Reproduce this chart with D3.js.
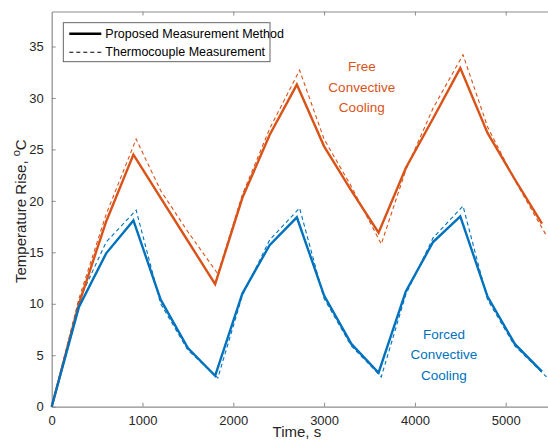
<!DOCTYPE html>
<html>
<head>
<meta charset="utf-8">
<script src="https://cdn.jsdelivr.net/npm/d3@7"></script>
<style>
  body { margin: 0; background: #fff; }
  svg { font-family: Arial, "Liberation Sans", sans-serif; }
  .axis text { fill: #262626; font-size: 13px; }
  .axis path, .axis line { stroke: #8c8c8c; }
</style>
</head>
<body>
<svg id="chart"></svg>
<script>
const chartWidth = 548;
const chartHeight = 443;
const margin = {top: 11.5, right: 0, bottom: 36.3, left: 51.7};
const innerWidth = chartWidth - margin.left - margin.right;
const innerHeight = chartHeight - margin.top - margin.bottom;

const ORANGE = "#d95319";
const BLUE = "#0072bd";

// time grid, s
const times = [0, 300, 600, 900, 1200, 1500, 1800, 2100, 2400, 2700, 3000, 3300, 3600, 3900, 4200, 4500, 4800, 5100, 5400];
const tcTimes = [0, 300, 600, 930, 1200, 1500, 1830, 2100, 2400, 2730, 3000, 3300, 3630, 3900, 4200, 4530, 4800, 5100, 5450];

// free convective cooling
const freeProposed = [0, 10.0, 18.0, 24.5, 20.3, 16.1, 11.9, 20.3, 26.4, 31.3, 25.3, 21.0, 16.9, 23.2, 28.0, 32.9, 26.6, 22.1, 17.8];
const freeThermo = [0, 10.5, 18.7, 26.0, 21.0, 17.0, 12.9, 20.6, 27.0, 32.7, 26.0, 21.4, 15.8, 23.0, 29.0, 34.2, 27.2, 22.0, 16.6];

// forced convective cooling
const forcedProposed = [0, 9.7, 14.9, 18.1, 10.4, 5.7, 3.0, 11.0, 15.7, 18.4, 10.8, 6.1, 3.3, 11.2, 16.0, 18.5, 10.7, 6.1, 3.4];
const forcedThermo = [0, 10.3, 16.0, 19.1, 10.0, 5.5, 2.8, 10.8, 16.2, 19.3, 10.5, 5.9, 2.9, 10.9, 16.4, 19.5, 10.4, 5.9, 2.9];

const xTicks = [0, 1000, 2000, 3000, 4000, 5000];
const yTicks = [0, 5, 10, 15, 20, 25, 30, 35];
const X_MAX = 5466;
const Y_MAX = 38.4;

const legendLabels = ["Proposed Measurement Method", "Thermocouple Measurement"];

const svg = d3.select("#chart")
    .attr("width", chartWidth)
    .attr("height", chartHeight);
const g = svg.append("g")
    .attr("transform", `translate(${margin.left}, ${margin.top})`);

const xScale = d3.scaleLinear().domain([0, X_MAX]).range([0, innerWidth]);
const yScale = d3.scaleLinear().domain([0, Y_MAX]).range([innerHeight, 0]);

// axes, MATLAB-like box with inward ticks
g.append("g")
    .attr("class", "axis")
    .attr("transform", `translate(0, ${innerHeight})`)
    .call(d3.axisBottom(xScale).tickValues(xTicks).tickFormat(d3.format("d"))
        .tickSize(-4).tickPadding(9).tickSizeOuter(0));
g.append("g")
    .attr("class", "axis")
    .call(d3.axisTop(xScale).tickValues(xTicks.slice(1)).tickSize(-4).tickFormat("").tickSizeOuter(0));
g.append("g")
    .attr("class", "axis")
    .call(d3.axisLeft(yScale).tickValues(yTicks).tickSize(-4).tickPadding(8).tickSizeOuter(0));
g.selectAll(".axis path").attr("stroke-width", 1.2);

const line = d3.line()
    .x(d => xScale(d[0]))
    .y(d => yScale(d[1]));

function drawSeries(ts, vals, color, dashed) {
    g.append("path")
        .datum(ts.map((t, i) => [t, vals[i]]))
        .attr("fill", "none")
        .attr("stroke", color)
        .attr("stroke-width", dashed ? 1.1 : 2.4)
        .attr("stroke-dasharray", dashed ? "4,3" : null)
        .attr("stroke-linejoin", "miter")
        .attr("d", line);
}

drawSeries(tcTimes, freeThermo, ORANGE, true);
drawSeries(tcTimes, forcedThermo, BLUE, true);
drawSeries(times, freeProposed, ORANGE, false);
drawSeries(times, forcedProposed, BLUE, false);

// annotations
function annotate(lines, t, v, color) {
    const txt = g.append("text")
        .attr("x", xScale(t))
        .attr("y", yScale(v))
        .attr("text-anchor", "middle")
        .attr("fill", color)
        .style("font-size", "13.5px");
    lines.forEach((s, i) => {
        txt.append("tspan")
            .attr("x", xScale(t))
            .attr("dy", i === 0 ? 0 : 20.5)
            .text(s);
    });
}
annotate(["Free", "Convective", "Cooling"], 3415, 32.6, ORANGE);
annotate(["Forced", "Convective", "Cooling"], 4320, 6.6, BLUE);

// legend
const legend = g.append("g").attr("transform", `translate(${63.3 - margin.left}, ${22.7 - margin.top})`);
legend.append("rect")
    .attr("width", 206.7)
    .attr("height", 39)
    .attr("fill", "#fff")
    .attr("stroke", "#555")
    .attr("stroke-width", 0.9);
legendLabels.forEach((lab, i) => {
    const y = 11 + i * 18.5;
    legend.append("line")
        .attr("x1", 6).attr("x2", 38)
        .attr("y1", y).attr("y2", y)
        .attr("stroke", "#000")
        .attr("stroke-width", i === 0 ? 2.4 : 1.1)
        .attr("stroke-dasharray", i === 0 ? null : "4,3");
    legend.append("text")
        .attr("x", 42)
        .attr("y", y + 4)
        .attr("fill", "#000")
        .style("font-size", "12.5px")
        .text(lab);
});

// axis labels
svg.append("text")
    .attr("x", margin.left + xScale(2700))
    .attr("y", 437)
    .attr("text-anchor", "middle")
    .attr("fill", "#262626")
    .style("font-size", "15px")
    .text("Time, s");

const yLab = svg.append("text")
    .attr("transform", `translate(26, ${margin.top + yScale(19)}) rotate(-90)`)
    .attr("text-anchor", "middle")
    .attr("fill", "#262626")
    .style("font-size", "15px");
yLab.append("tspan").text("Temperature Rise, ");
yLab.append("tspan").attr("dy", -6).style("font-size", "11px").text("o");
yLab.append("tspan").attr("dy", 6).text("C");
</script>
</body>
</html>
